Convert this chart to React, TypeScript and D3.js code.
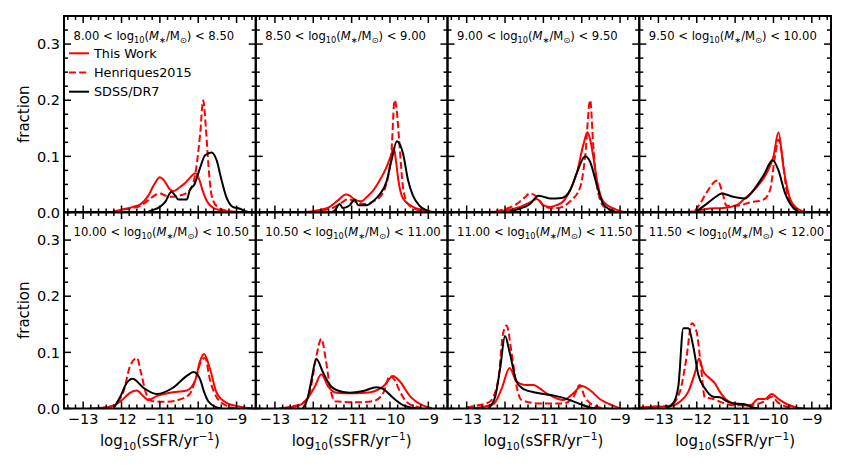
import React from "react";
import * as d3 from "d3";

type Pt = [number, number];

const panelLabels: [string, string][] = [
  ["8.00", "8.50"], ["8.50", "9.00"], ["9.00", "9.50"], ["9.50", "10.00"],
  ["10.00", "10.50"], ["10.50", "11.00"], ["11.00", "11.50"], ["11.50", "12.00"],
];
const seriesNames = ["This Work", "Henriques2015", "SDSS/DR7"];
const xMajor = [-13, -12, -11, -10, -9];
const yMajor = [0, 0.1, 0.2, 0.3];
const yTickLabels = ["0.0", "0.1", "0.2", "0.3"];

// Panel 1: 8.00-8.50
const p1This: Pt[] = [[-12.3,0],[-12.0,0.005],[-11.7,0.01],[-11.5,0.015],[-11.3,0.03],[-11.15,0.05],[-11.0,0.063],[-10.9,0.058],[-10.75,0.042],[-10.65,0.038],[-10.5,0.044],[-10.35,0.052],[-10.2,0.063],[-10.08,0.07],[-9.98,0.06],[-9.88,0.038],[-9.78,0.021],[-9.6,0.008],[-9.4,0.004],[-9.2,0.002],[-9.0,0]];
const p1Hen: Pt[] = [[-12.2,0],[-12.0,0.004],[-11.7,0.008],[-11.5,0.012],[-11.3,0.022],[-11.1,0.032],[-11.0,0.034],[-10.85,0.03],[-10.7,0.028],[-10.5,0.03],[-10.3,0.035],[-10.15,0.048],[-10.05,0.08],[-9.95,0.14],[-9.87,0.2],[-9.8,0.15],[-9.73,0.08],[-9.65,0.03],[-9.5,0.01],[-9.3,0.004],[-9.0,0.001]];
const p1Sdss: Pt[] = [[-11.35,0],[-11.2,0.004],[-11.0,0.01],[-10.85,0.02],[-10.7,0.037],[-10.6,0.03],[-10.52,0.023],[-10.3,0.023],[-10.22,0.04],[-10.1,0.05],[-9.95,0.08],[-9.82,0.102],[-9.65,0.107],[-9.52,0.093],[-9.4,0.06],[-9.28,0.03],[-9.1,0.01],[-8.93,0.007],[-8.75,0.002],[-8.6,0]];
// Panel 2: 8.50-9.00
const p2This: Pt[] = [[-12.5,0],[-12.05,0.002],[-11.8,0.005],[-11.57,0.01],[-11.35,0.022],[-11.15,0.032],[-11.05,0.03],[-10.92,0.023],[-10.75,0.02],[-10.6,0.028],[-10.44,0.039],[-10.27,0.057],[-10.09,0.081],[-9.98,0.1],[-9.9,0.115],[-9.84,0.09],[-9.78,0.057],[-9.66,0.025],[-9.4,0.01],[-9.05,0.003],[-8.8,0]];
const p2Hen: Pt[] = [[-12.3,0],[-12.0,0.002],[-11.5,0.008],[-11.25,0.018],[-11.1,0.024],[-10.96,0.021],[-10.75,0.016],[-10.61,0.015],[-10.44,0.02],[-10.27,0.027],[-10.12,0.045],[-10.02,0.075],[-9.96,0.11],[-9.88,0.2],[-9.82,0.18],[-9.76,0.128],[-9.66,0.045],[-9.53,0.015],[-9.3,0.005],[-9.0,0.001]];
const p2Sdss: Pt[] = [[-11.6,0],[-11.45,0.003],[-11.31,0.015],[-11.23,0.008],[-11.05,0.013],[-10.92,0.023],[-10.83,0.013],[-10.61,0.013],[-10.44,0.02],[-10.27,0.032],[-10.09,0.055],[-9.96,0.093],[-9.82,0.127],[-9.66,0.105],[-9.53,0.058],[-9.4,0.03],[-9.23,0.012],[-9.05,0.004],[-8.9,0]];
// Panel 3: 9.00-9.50
const p3This: Pt[] = [[-12.5,0],[-12.05,0.003],[-11.61,0.01],[-11.35,0.018],[-11.17,0.024],[-11.0,0.013],[-10.83,0.01],[-10.65,0.013],[-10.48,0.02],[-10.3,0.04],[-10.13,0.07],[-9.96,0.12],[-9.85,0.143],[-9.78,0.13],[-9.7,0.1],[-9.61,0.06],[-9.44,0.02],[-9.1,0.005],[-8.8,0]];
const p3Hen: Pt[] = [[-12.5,0],[-12.05,0.005],[-11.7,0.015],[-11.5,0.026],[-11.35,0.034],[-11.17,0.028],[-11.0,0.012],[-10.8,0.008],[-10.65,0.008],[-10.3,0.02],[-10.04,0.045],[-9.91,0.1],[-9.78,0.2],[-9.7,0.12],[-9.61,0.05],[-9.44,0.012],[-9.2,0.003],[-9.0,0]];
const p3Sdss: Pt[] = [[-12.0,0],[-11.7,0.005],[-11.35,0.015],[-11.13,0.03],[-10.95,0.027],[-10.83,0.025],[-10.52,0.026],[-10.3,0.04],[-10.13,0.07],[-9.91,0.1],[-9.78,0.09],[-9.61,0.05],[-9.44,0.015],[-9.26,0.005],[-9.1,0]];
// Panel 4: 9.50-10.00
const p4This: Pt[] = [[-12.7,0],[-12.09,0.002],[-11.66,0.007],[-11.31,0.008],[-10.96,0.013],[-10.75,0.025],[-10.61,0.033],[-10.44,0.045],[-10.18,0.07],[-10.0,0.1],[-9.87,0.143],[-9.74,0.08],[-9.57,0.025],[-9.4,0.008],[-9.1,0]];
const p4Hen: Pt[] = [[-12.3,0],[-12.09,0.002],[-11.92,0.015],[-11.75,0.035],[-11.46,0.057],[-11.35,0.04],[-11.22,0.012],[-10.96,0.012],[-10.61,0.018],[-10.26,0.023],[-10.09,0.04],[-9.96,0.1],[-9.87,0.13],[-9.79,0.11],[-9.66,0.04],[-9.48,0.01],[-9.2,0]];
const p4Sdss: Pt[] = [[-12.05,0],[-11.75,0.015],[-11.5,0.028],[-11.35,0.034],[-11.05,0.028],[-10.75,0.025],[-10.52,0.04],[-10.26,0.066],[-10.02,0.093],[-9.87,0.075],[-9.7,0.035],[-9.48,0.008],[-9.3,0]];
// Panel 5: 10.00-10.50
const p5This: Pt[] = [[-12.8,0],[-12.56,0.001],[-12.21,0.005],[-11.99,0.015],[-11.78,0.028],[-11.6,0.032],[-11.43,0.022],[-11.3,0.015],[-11.08,0.022],[-10.74,0.028],[-10.3,0.032],[-10.08,0.05],[-9.95,0.085],[-9.85,0.097],[-9.69,0.07],[-9.52,0.028],[-9.26,0.01],[-8.9,0.003],[-8.6,0]];
const p5Hen: Pt[] = [[-12.6,0],[-12.3,0.003],[-12.13,0.01],[-11.95,0.03],[-11.78,0.075],[-11.6,0.09],[-11.48,0.06],[-11.35,0.025],[-11.2,0.013],[-10.83,0.012],[-10.48,0.016],[-10.22,0.026],[-10.05,0.056],[-9.92,0.085],[-9.82,0.09],[-9.69,0.05],[-9.52,0.02],[-9.26,0.005],[-9.0,0]];
const p5Sdss: Pt[] = [[-12.21,0],[-12.04,0.02],[-11.87,0.045],[-11.71,0.053],[-11.43,0.037],[-11.08,0.026],[-10.66,0.037],[-10.3,0.058],[-10.12,0.065],[-9.95,0.052],[-9.85,0.03],[-9.74,0.013],[-9.52,0.002],[-9.4,0]];
// Panel 6: 10.50-11.00
const p6This: Pt[] = [[-12.9,0],[-12.79,0.001],[-12.44,0.004],[-12.18,0.015],[-11.96,0.039],[-11.79,0.061],[-11.61,0.039],[-11.4,0.028],[-11.05,0.027],[-10.62,0.028],[-10.18,0.039],[-9.92,0.058],[-9.74,0.048],[-9.48,0.022],[-9.13,0.005],[-8.9,0]];
const p6Hen: Pt[] = [[-12.8,0],[-12.6,0.003],[-12.27,0.01],[-12.09,0.03],[-11.92,0.093],[-11.79,0.124],[-11.68,0.09],[-11.57,0.04],[-11.44,0.013],[-10.88,0.011],[-10.44,0.013],[-10.18,0.027],[-10.0,0.058],[-9.87,0.05],[-9.74,0.03],[-9.57,0.012],[-9.3,0.003],[-9.0,0]];
const p6Sdss: Pt[] = [[-12.27,0],[-12.14,0.02],[-12.05,0.05],[-11.92,0.088],[-11.75,0.065],[-11.57,0.042],[-11.4,0.033],[-11.05,0.028],[-10.7,0.031],[-10.35,0.038],[-10.18,0.035],[-9.92,0.019],[-9.66,0.006],[-9.4,0.001],[-9.2,0]];
// Panel 7: 11.00-11.50
const p7This: Pt[] = [[-12.9,0],[-12.74,0.001],[-12.3,0.008],[-12.09,0.035],[-11.88,0.072],[-11.7,0.048],[-11.48,0.042],[-11.27,0.042],[-10.92,0.027],[-10.48,0.015],[-10.22,0.027],[-10.0,0.04],[-9.79,0.033],[-9.53,0.017],[-9.18,0.005],[-9.0,0]];
const p7Hen: Pt[] = [[-13.0,0.002],[-12.74,0.005],[-12.4,0.012],[-12.18,0.05],[-12.05,0.134],[-11.96,0.148],[-11.83,0.1],[-11.7,0.04],[-11.57,0.015],[-11.09,0.009],[-10.48,0.009],[-10.22,0.02],[-10.05,0.042],[-9.92,0.02],[-9.79,0.01],[-9.53,0.002],[-9.3,0]];
const p7Sdss: Pt[] = [[-12.44,0],[-12.26,0.02],[-12.13,0.07],[-12.0,0.129],[-11.88,0.1],[-11.7,0.048],[-11.53,0.035],[-11.18,0.028],[-10.66,0.022],[-10.31,0.015],[-10.05,0.008],[-9.79,0.002],[-9.6,0]];
// Panel 8: 11.50-12.00
const p8This: Pt[] = [[-13.5,0.002],[-13.14,0.003],[-12.7,0.004],[-12.44,0.012],[-12.22,0.03],[-12.05,0.063],[-11.94,0.089],[-11.83,0.066],[-11.7,0.056],[-11.53,0.045],[-11.4,0.03],[-11.22,0.015],[-10.96,0.008],[-10.61,0.005],[-10.4,0.017],[-10.22,0.017],[-10.05,0.026],[-9.87,0.017],[-9.66,0.008],[-9.4,0.002],[-9.2,0]];
const p8Hen: Pt[] = [[-13.4,0.001],[-13.23,0.003],[-12.7,0.005],[-12.44,0.03],[-12.27,0.09],[-12.13,0.152],[-12.0,0.135],[-11.9,0.08],[-11.79,0.02],[-11.57,0.017],[-11.4,0.012],[-11.05,0.006],[-10.61,0.006],[-10.26,0.012],[-10.05,0.021],[-9.87,0.01],[-9.66,0.003],[-9.4,0]];
const p8Sdss: Pt[] = [[-12.79,0.001],[-12.61,0.01],[-12.48,0.04],[-12.35,0.143],[-12.22,0.143],[-12.09,0.11],[-11.96,0.06],[-11.79,0.036],[-11.57,0.021],[-11.4,0.02],[-11.22,0.013],[-11.05,0.009],[-10.79,0.008],[-10.53,0.002],[-10.4,0]];

const panelData: Pt[][][] = [
  [p1This, p1Hen, p1Sdss], [p2This, p2Hen, p2Sdss], [p3This, p3Hen, p3Sdss], [p4This, p4Hen, p4Sdss],
  [p5This, p5Hen, p5Sdss], [p6This, p6Hen, p6Sdss], [p7This, p7Hen, p7Sdss], [p8This, p8Hen, p8Sdss],
];

const W = 866, H = 473;
const colLeft = [64, 255.75, 447.5, 639.25];
const pw = 191.75;
const rowTop = [16, 212];
const ph = 196.5;
const FONT = "DejaVu Sans, sans-serif";
const styles = [
  { stroke: "#ff0000", dash: "none" },
  { stroke: "#ff0000", dash: "7,3.2" },
  { stroke: "#000000", dash: "none" },
];

function range(a: number, b: number, s: number) {
  const out: number[] = [];
  for (let v = a; v <= b + 1e-9; v += s) out.push(Math.round(v * 1000) / 1000);
  return out;
}
const xMinor = range(-13.4, -8.6, 0.2).filter((v) => !xMajor.some((m) => Math.abs(m - v) < 1e-6));
const yMinor = range(0, 0.35, 0.025).filter((v) => !yMajor.some((m) => Math.abs(m - v) < 1e-6));

function Panel({ idx }: { idx: number }) {
  const col = idx % 4, row = Math.floor(idx / 4);
  const x0 = colLeft[col], y0 = rowTop[row];
  const x = d3.scaleLinear().domain([-13.5, -8.5]).range([x0, x0 + pw]);
  const y = d3.scaleLinear().domain([0, 0.35]).range([y0 + ph, y0]);
  const line = d3.line<Pt>().x((d) => x(d[0])).y((d) => y(d[1])).curve(d3.curveMonotoneX);
  const clipId = `clip${idx}`;
  const [lo, hi] = panelLabels[idx];
  const tk = { stroke: "#000", strokeWidth: 1.5 };
  return (
    <g>
      <defs>
        <clipPath id={clipId}>
          <rect x={x0} y={y0} width={pw} height={ph} />
        </clipPath>
      </defs>
      <g clipPath={`url(#${clipId})`}>
        {panelData[idx].map((s, i) => (
          <path key={i} d={line(s) || ""} fill="none" stroke={styles[i].stroke}
            strokeWidth={2} strokeDasharray={styles[i].dash} strokeLinejoin="round" />
        ))}
      </g>
      {/* ticks */}
      {xMajor.map((v) => (
        <g key={`xm${v}`}>
          <line x1={x(v)} x2={x(v)} y1={y0 + ph} y2={y0 + ph - 7} {...tk} />
          <line x1={x(v)} x2={x(v)} y1={y0} y2={y0 + 7} {...tk} />
        </g>
      ))}
      {xMinor.map((v) => (
        <g key={`xn${v}`}>
          <line x1={x(v)} x2={x(v)} y1={y0 + ph} y2={y0 + ph - 4} {...tk} />
          <line x1={x(v)} x2={x(v)} y1={y0} y2={y0 + 4} {...tk} />
        </g>
      ))}
      {yMajor.map((v) => (
        <g key={`ym${v}`}>
          <line x1={x0} x2={x0 + 7} y1={y(v)} y2={y(v)} {...tk} />
          <line x1={x0 + pw} x2={x0 + pw - 7} y1={y(v)} y2={y(v)} {...tk} />
        </g>
      ))}
      {yMinor.map((v) => (
        <g key={`yn${v}`}>
          <line x1={x0} x2={x0 + 4} y1={y(v)} y2={y(v)} {...tk} />
          <line x1={x0 + pw} x2={x0 + pw - 4} y1={y(v)} y2={y(v)} {...tk} />
        </g>
      ))}
      <rect x={x0} y={y0} width={pw} height={ph} fill="none" stroke="#000" strokeWidth={2} />
      {/* panel label */}
      <text x={x0 + 9.5} y={y0 + 24} fontFamily={FONT} fontSize={11.6} fill="#000">
        <tspan>{`${lo} < log`}</tspan>
        <tspan fontSize={8.2} dy={2.5}>10</tspan>
        <tspan dy={-2.5}>(</tspan>
        <tspan fontStyle="italic">M</tspan>
        <tspan fontSize={8.2} dy={2.5}>∗</tspan>
        <tspan dy={-2.5}>/M</tspan>
        <tspan fontSize={8.2} dy={2.5}>⊙</tspan>
        <tspan dy={-2.5}>{`) < ${hi}`}</tspan>
      </text>
      {col === 0 &&
        yMajor.map((v, i) => (
          <text key={`yl${v}`} x={x0 - 4} y={y(v)} dy="0.36em" textAnchor="end" fontFamily={FONT} fontSize={14.5}>
            {yTickLabels[i]}
          </text>
        ))}
      {col === 0 && (
        <text transform={`translate(${24},${y0 + ph / 2}) rotate(-90)`} dy="0.35em" textAnchor="middle" fontFamily={FONT} fontSize={15}>
          fraction
        </text>
      )}
      {row === 1 &&
        xMajor.map((v) => (
          <text key={`xl${v}`} x={x(v)} y={424} textAnchor="middle" fontFamily={FONT} fontSize={14.5}>
            {`−${Math.abs(v)}`}
          </text>
        ))}
      {row === 1 && (
        <text x={x0 + pw / 2} y={446} textAnchor="middle" fontFamily={FONT} fontSize={15}>
          <tspan>log</tspan>
          <tspan fontSize={10.5} dy={3.5}>10</tspan>
          <tspan dy={-3.5}>(sSFR/yr</tspan>
          <tspan fontSize={10.5} dy={-6}>−1</tspan>
          <tspan dy={6}>)</tspan>
        </text>
      )}
      {idx === 0 &&
        seriesNames.map((n, i) => {
          const ly = 53.3 + i * 19.2;
          return (
            <g key={n}>
              <line x1={69} x2={89} y1={ly} y2={ly} stroke={styles[i].stroke} strokeWidth={2} strokeDasharray={styles[i].dash} />
              <text x={94} y={ly} dy="0.36em" fontFamily={FONT} fontSize={12.8}>{n}</text>
            </g>
          );
        })}
    </g>
  );
}

export default function App() {
  return (
    <svg width={W} height={H} style={{ position: "absolute", left: 0, top: 0, background: "#fff" }}>
      <rect width={W} height={H} fill="#fff" />
      {panelLabels.map((_, i) => (
        <Panel key={i} idx={i} />
      ))}
    </svg>
  );
}
